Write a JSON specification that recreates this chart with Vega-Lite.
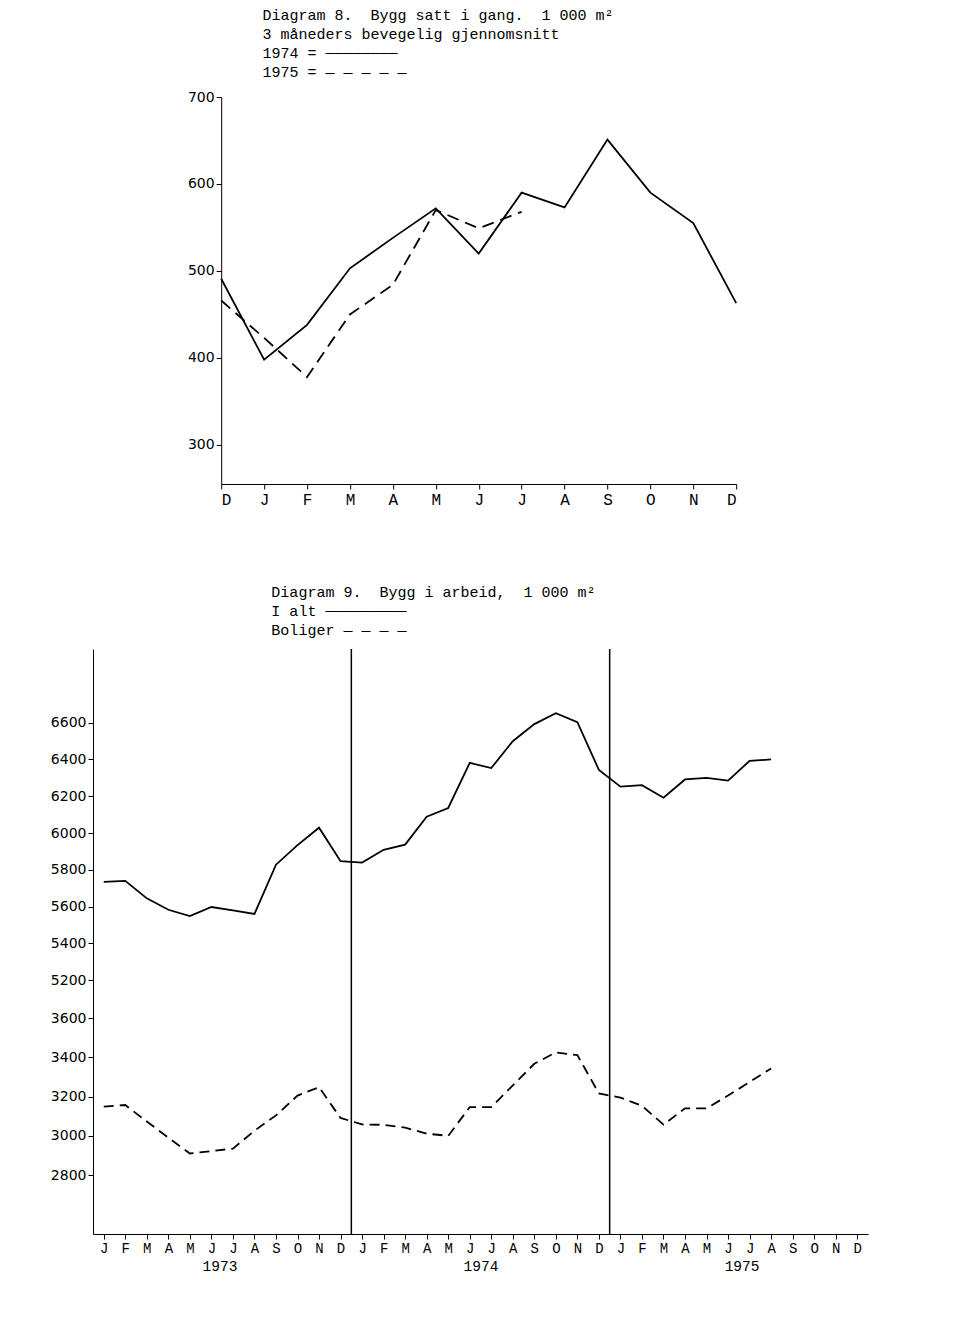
{
  "$schema": "https://vega.github.io/schema/vega-lite/v6.json",
  "background": "white",
  "padding": {"left": 50, "top": 8, "right": 5, "bottom": 5},
  "config": {
    "view": {"stroke": null},
    "axis": {"domainColor": "black", "tickColor": "black", "labelColor": "black", "grid": false, "labelFontSize": 14, "labelFont": "DejaVu Sans"},
    "title": {"font": "Liberation Mono", "fontSize": 15, "fontWeight": "normal", "color": "black", "anchor": "start", "lineHeight": 19, "offset": 10}
  },
  "vconcat": [
    {
      "title": {"text": [
        "Diagram 8.\u00a0\u00a0Bygg satt i gang.\u00a0\u00a01 000 m²",
        "\u00a0\u00a0\u00a0\u00a0\u00a0\u00a0\u00a0\u00a0\u00a0\u00a0\u00a0\u00a03 måneders bevegelig gjennomsnitt",
        "\u00a0\u00a0\u00a0\u00a0\u00a0\u00a0\u00a0\u00a0\u00a0\u00a0\u00a0\u00a01974 = ────────",
        "\u00a0\u00a0\u00a0\u00a0\u00a0\u00a0\u00a0\u00a0\u00a0\u00a0\u00a0\u00a01975 = —\u00a0—\u00a0—\u00a0—\u00a0—"
      ], "dx": 75},
      "width": 515,
      "height": 387,
      "data": {"values": [
        {"series": "1974", "pos": 0, "value": 491},
        {"series": "1974", "pos": 1, "value": 398},
        {"series": "1974", "pos": 2, "value": 438},
        {"series": "1974", "pos": 3, "value": 503},
        {"series": "1974", "pos": 4, "value": 538},
        {"series": "1974", "pos": 5, "value": 572},
        {"series": "1974", "pos": 6, "value": 520},
        {"series": "1974", "pos": 7, "value": 590},
        {"series": "1974", "pos": 8, "value": 573},
        {"series": "1974", "pos": 9, "value": 651},
        {"series": "1974", "pos": 10, "value": 590},
        {"series": "1974", "pos": 11, "value": 555},
        {"series": "1974", "pos": 12, "value": 463},
        {"series": "1975", "pos": 0, "value": 466},
        {"series": "1975", "pos": 1, "value": 423},
        {"series": "1975", "pos": 2, "value": 378},
        {"series": "1975", "pos": 3, "value": 450},
        {"series": "1975", "pos": 4, "value": 484},
        {"series": "1975", "pos": 5, "value": 570},
        {"series": "1975", "pos": 6, "value": 549},
        {"series": "1975", "pos": 7, "value": 568}
      ]},
      "encoding": {
        "x": {"field": "pos", "type": "quantitative", "scale": {"domain": [0, 12]}, "axis": {"values": [0,1,2,3,4,5,6,7,8,9,10,11,12], "labelExpr": "['D','J','F','M','A','M','J','J','A','S','O','N','D'][datum.value]", "labelFont": "Liberation Mono", "labelFontSize": 16, "title": null}},
        "y": {"field": "value", "type": "quantitative", "scale": {"domain": [255, 700], "zero": false}, "axis": {"values": [300,400,500,600,700], "title": null}}
      },
      "layer": [
        {
          "transform": [{"filter": "datum.series == '1974'"}],
          "mark": {"type": "line", "color": "black", "strokeWidth": 1.8},
          "encoding": {}
        },
        {
          "transform": [{"filter": "datum.series == '1975'"}],
          "mark": {"type": "line", "color": "black", "strokeWidth": 1.8, "strokeDash": [12, 7]},
          "encoding": {}
        }
      ]
    },
    {
      "title": {"text": [
        "Diagram 9.\u00a0\u00a0Bygg i arbeid,\u00a0\u00a01 000 m²",
        "\u00a0\u00a0\u00a0\u00a0\u00a0\u00a0\u00a0\u00a0\u00a0\u00a0\u00a0\u00a0I alt ─────────",
        "\u00a0\u00a0\u00a0\u00a0\u00a0\u00a0\u00a0\u00a0\u00a0\u00a0\u00a0\u00a0Boliger —\u00a0—\u00a0—\u00a0—"
      ], "dx": 221},
      "width": 775,
      "height": 585,
      "data": {"values": [
        {"key": "1973-01", "i_alt": 5735, "boliger": 3149},
        {"key": "1973-02", "i_alt": 5740, "boliger": 3157},
        {"key": "1973-03", "i_alt": 5645, "boliger": 3073},
        {"key": "1973-04", "i_alt": 5583, "boliger": 2991},
        {"key": "1973-05", "i_alt": 5549, "boliger": 2910},
        {"key": "1973-06", "i_alt": 5598, "boliger": 2922},
        {"key": "1973-07", "i_alt": 5580, "boliger": 2935},
        {"key": "1973-08", "i_alt": 5560, "boliger": 3026},
        {"key": "1973-09", "i_alt": 5828, "boliger": 3104},
        {"key": "1973-10", "i_alt": 5934, "boliger": 3205},
        {"key": "1973-11", "i_alt": 6029, "boliger": 3248},
        {"key": "1973-12", "i_alt": 5847, "boliger": 3091},
        {"key": "1974-01", "i_alt": 5839, "boliger": 3058},
        {"key": "1974-02", "i_alt": 5909, "boliger": 3056},
        {"key": "1974-03", "i_alt": 5937, "boliger": 3042},
        {"key": "1974-04", "i_alt": 6089, "boliger": 3011},
        {"key": "1974-05", "i_alt": 6136, "boliger": 3000},
        {"key": "1974-06", "i_alt": 6381, "boliger": 3146},
        {"key": "1974-07", "i_alt": 6353, "boliger": 3146},
        {"key": "1974-08", "i_alt": 6499, "boliger": 3257},
        {"key": "1974-09", "i_alt": 6592, "boliger": 3367},
        {"key": "1974-10", "i_alt": 6651, "boliger": 3425},
        {"key": "1974-11", "i_alt": 6602, "boliger": 3411},
        {"key": "1974-12", "i_alt": 6343, "boliger": 3216},
        {"key": "1975-01", "i_alt": 6252, "boliger": 3195},
        {"key": "1975-02", "i_alt": 6260, "boliger": 3153},
        {"key": "1975-03", "i_alt": 6192, "boliger": 3057},
        {"key": "1975-04", "i_alt": 6291, "boliger": 3140},
        {"key": "1975-05", "i_alt": 6300, "boliger": 3140},
        {"key": "1975-06", "i_alt": 6285, "boliger": 3205},
        {"key": "1975-07", "i_alt": 6392, "boliger": 3274},
        {"key": "1975-08", "i_alt": 6400, "boliger": 3343}
      ]},
      "encoding": {
        "x": {"field": "key", "type": "ordinal", "scale": {"type": "point", "padding": 0.5, "domain": ["1973-01","1973-02","1973-03","1973-04","1973-05","1973-06","1973-07","1973-08","1973-09","1973-10","1973-11","1973-12","1974-01","1974-02","1974-03","1974-04","1974-05","1974-06","1974-07","1974-08","1974-09","1974-10","1974-11","1974-12","1975-01","1975-02","1975-03","1975-04","1975-05","1975-06","1975-07","1975-08","1975-09","1975-10","1975-11","1975-12"]},
          "axis": {"labelAngle": 0, "labelFont": "Liberation Mono", "labelExpr": "['J','F','M','A','M','J','J','A','S','O','N','D'][toNumber(slice(datum.value,5,7))-1]",
            "title": "1973\u00a0\u00a0\u00a0\u00a0\u00a0\u00a0\u00a0\u00a0\u00a0\u00a0\u00a0\u00a0\u00a0\u00a0\u00a0\u00a0\u00a0\u00a0\u00a0\u00a0\u00a0\u00a0\u00a0\u00a0\u00a0\u00a01974\u00a0\u00a0\u00a0\u00a0\u00a0\u00a0\u00a0\u00a0\u00a0\u00a0\u00a0\u00a0\u00a0\u00a0\u00a0\u00a0\u00a0\u00a0\u00a0\u00a0\u00a0\u00a0\u00a0\u00a0\u00a0\u00a01975",
            "titleFont": "Liberation Mono", "titleFontWeight": "normal", "titleFontSize": 14.5, "titleColor": "black"}}
      },
      "layer": [
        {
          "mark": {"type": "line", "color": "black", "strokeWidth": 1.8},
          "encoding": {
            "y": {"field": "i_alt", "type": "quantitative", "scale": {"domain": [2614, 3697, 5098, 6711], "range": [585, 350, 350, 0]}, "axis": {"values": [2800,3000,3200,3400,3600,5200,5400,5600,5800,6000,6200,6400,6600], "format": "d", "title": null}}
          }
        },
        {
          "mark": {"type": "line", "color": "black", "strokeWidth": 1.8, "strokeDash": [10, 6]},
          "encoding": {
            "y": {"field": "boliger", "type": "quantitative"}
          }
        },
        {
          "data": {"values": [{"key": "1974-01"}, {"key": "1975-01"}]},
          "mark": {"type": "rule", "color": "black", "strokeWidth": 1.5, "xOffset": -10.76},
          "encoding": {}
        }
      ]
    }
  ],
  "spacing": 78,
  "center": true
}
